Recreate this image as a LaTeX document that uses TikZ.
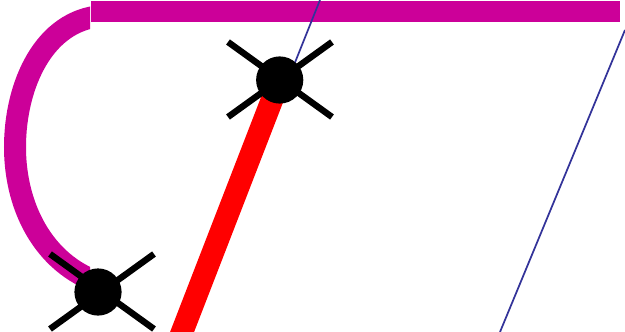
\documentclass[tikz,border=0pt]{standalone}
\usepackage{xcolor}
\usetikzlibrary{calc}
\definecolor{busPurple}{RGB}{204,0,153}
\definecolor{wireBlue}{RGB}{51,51,153}
\tikzset{
  junction/.style={circle,fill=black,inner sep=0pt,minimum size=35.4pt},
  busline/.style={line width=15.8pt,busPurple},
  arcline/.style={line width=16.5pt,busPurple},
  hotline/.style={line width=16.8pt,red},
  wireline/.style={line width=1.3pt,wireBlue},
  armline/.style={line width=4.8pt,black}
}
\begin{document}
\begin{tikzpicture}[x=0.75pt,y=-0.75pt]
  \useasboundingbox (0,0) rectangle (625,332);
  % Free ends
  \coordinate (busleft) at (91,11.5);
  \coordinate (busright) at (620,11.5);
  \coordinate (arctop) at (102,16);
  \coordinate (arcmid) at (15,147);
  \coordinate (arcend) at (104,284);
  \coordinate (hotend) at (172,358);
  \coordinate (wiretop) at (320,0);
  \coordinate (wirebase) at (288,80);
  \coordinate (wirea) at (625,30);
  \coordinate (wireb) at (500,332);
  % Curve and bar
  \draw[busline] (busleft) -- (busright);
  \begin{scope}
    \clip (0,0) rectangle (90,332);
    \draw[arcline] (arctop) .. controls (44,20) and (15,85) .. (arcmid)
      .. controls (15,212) and (48,268) .. (arcend);
  \end{scope}
  % Thin wires
  \draw[wireline] (wirea) -- (wireb);
  \coordinate (upper) at (279.7,80);
  \coordinate (lower) at (98,292);
  \coordinate (uppercross) at (280,79.5);
  \coordinate (lowercross) at (102,291.5);
  \draw[wireline] (wirebase) -- (wiretop);
  \draw[hotline] (upper) -- (hotend);
  % Crosses
  \foreach \hub in {uppercross,lowercross} {
    \draw[armline] ($(\hub)+(-52,-37.5)$) -- ($(\hub)+(52,37.5)$);
    \draw[armline] ($(\hub)+(-52,37.5)$) -- ($(\hub)+(52,-37.5)$);
  }
  \node[junction] (upperhub) at (upper) {};
  \node[junction] (lowerhub) at (lower) {};
\end{tikzpicture}
\end{document}
